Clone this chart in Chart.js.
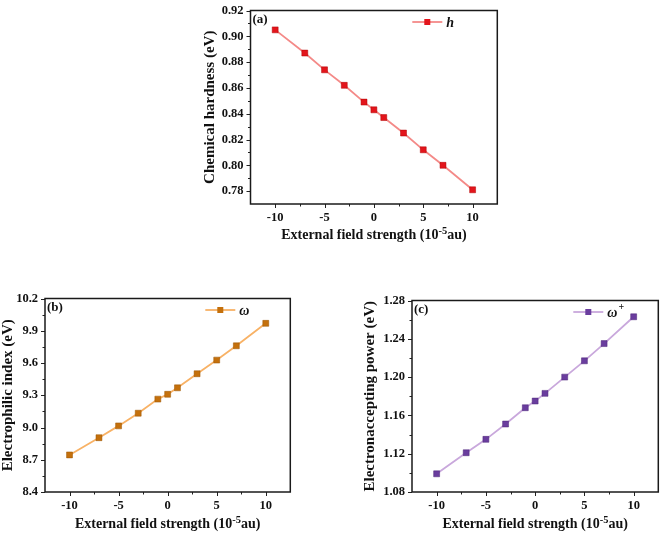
<!DOCTYPE html>
<html>
<head>
<meta charset="utf-8">
<script src="https://cdn.jsdelivr.net/npm/chart.js@4.4.1/dist/chart.umd.min.js"></script>
<style>
html,body{margin:0;padding:0;background:#fff;overflow:hidden;width:661px;height:533px;}
canvas{position:absolute;}
</style>
</head>
<body>
<canvas id="ca"></canvas>
<canvas id="cb"></canvas>
<canvas id="cc"></canvas>
<script>
// ---------- data ----------
const fieldStrength = [-10, -7, -5, -3, -1, 0, 1, 3, 5, 7, 10];
const hardness = [0.905, 0.887, 0.874, 0.862, 0.849, 0.843, 0.837, 0.825, 0.812, 0.800, 0.781];
const electrophilicIndex = [8.745, 8.905, 9.015, 9.133, 9.264, 9.309, 9.369, 9.500, 9.627, 9.760, 9.969];
const electronAccepting = [1.099, 1.121, 1.135, 1.151, 1.168, 1.175, 1.183, 1.200, 1.217, 1.235, 1.263];

const xTicks = [-10, -5, 0, 5, 10];
const xMinorTicks = [-7.5, -2.5, 2.5, 7.5];
const hardnessTicks = [0.78, 0.80, 0.82, 0.84, 0.86, 0.88, 0.90, 0.92];
const hardnessMinor = [0.79, 0.81, 0.83, 0.85, 0.87, 0.89, 0.91];
const electrophilicTicks = [8.4, 8.7, 9.0, 9.3, 9.6, 9.9, 10.2];
const electrophilicMinor = [8.55, 8.85, 9.15, 9.45, 9.75, 10.05];
const acceptingTicks = [1.08, 1.12, 1.16, 1.20, 1.24, 1.28];
const acceptingMinor = [1.10, 1.14, 1.18, 1.22, 1.26];

const xTitleParts = ['External field strength (10', '-5', 'au)'];
const yTitleA = 'Chemical hardness (eV)';
const yTitleB = 'Electrophilic index (eV)';
const yTitleC = 'Electronaccepting power (eV)';
const seriesNames = ['h', '\u03C9', '\u03C9'];
const panelLabels = ['(a)', '(b)', '(c)'];

// ---------- layout / styles ----------
const FONT = "'Liberation Serif', 'Times New Roman', serif";
const panels = [
  {id:'ca', plot:{l:250, t:6, r:497, b:204}, yTitleX:209.5, xTitleY:234,
   values:hardness, yTicks:hardnessTicks, yMinor:hardnessMinor, yMin:0.77, yMax:0.92, dec:2,
   yTitle:yTitleA, name:seriesNames[0], sup:'', label:panelLabels[0],
   line:'#F48A88', point:'#E3151C', pointBorder:'#B00000'},
  {id:'cb', plot:{l:45, t:294, r:291, b:492}, yTitleX:8, xTitleY:523,
   values:electrophilicIndex, yTicks:electrophilicTicks, yMinor:electrophilicMinor, yMin:8.4, yMax:10.2, dec:1,
   yTitle:yTitleB, name:seriesNames[1], sup:'', label:panelLabels[1],
   line:'#F8B266', point:'#C4700C', pointBorder:'#9A5500'},
  {id:'cc', plot:{l:412, t:296, r:659, b:492}, yTitleX:370, xTitleY:523,
   values:electronAccepting, yTicks:acceptingTicks, yMinor:acceptingMinor, yMin:1.08, yMax:1.28, dec:2,
   yTitle:yTitleC, name:seriesNames[2], sup:'+', label:panelLabels[2],
   line:'#C9A8DC', point:'#6A3D9E', pointBorder:'#4B2477'}
];

const Y_TITLE_SIZE = 15, Y_TITLE_LH = Y_TITLE_SIZE * 1.2;
const X_TITLE_SIZE = 14;
const PAD_TOP = 10, PAD_RIGHT = 4;

const decorPlugin = {
  id: 'decor',
  afterDraw(chart) {
    const p = chart.options.plugins.decor;
    const {ctx, chartArea:{left, top, right, bottom}, scales:{x, y}} = chart;
    ctx.save();
    // ticks
    ctx.strokeStyle = '#222';
    ctx.lineWidth = 1;
    ctx.beginPath();
    xTicks.forEach(v => { const px = Math.round(x.getPixelForValue(v)) + 0.5; ctx.moveTo(px, bottom); ctx.lineTo(px, bottom + 4); });
    xMinorTicks.forEach(v => { const px = Math.round(x.getPixelForValue(v)) + 0.5; ctx.moveTo(px, bottom); ctx.lineTo(px, bottom + 2.5); });
    p.yTicks.forEach(v => { const py = Math.round(y.getPixelForValue(v)) + 0.5; ctx.moveTo(left, py); ctx.lineTo(left - 4, py); });
    p.yMinor.forEach(v => { const py = Math.round(y.getPixelForValue(v)) + 0.5; ctx.moveTo(left, py); ctx.lineTo(left - 2.5, py); });
    ctx.stroke();
    // frame
    ctx.lineWidth = 1.5;
    ctx.strokeStyle = '#1a1a1a';
    ctx.strokeRect(left, top, right - left, bottom - top);
    // panel label
    ctx.fillStyle = '#111';
    ctx.font = "bold 13px " + FONT;
    ctx.textAlign = 'left';
    ctx.textBaseline = 'middle';
    ctx.fillText(p.label, left + 2, top + 9.5);
    // x axis title with superscript
    const ty = bottom + p.xTitleOff;
    const fMain = "bold " + X_TITLE_SIZE + "px " + FONT;
    const fSup = "bold 10.5px " + FONT;
    ctx.font = fMain; const w0 = ctx.measureText(xTitleParts[0]).width; const w2 = ctx.measureText(xTitleParts[2]).width;
    ctx.font = fSup; const w1 = ctx.measureText(xTitleParts[1]).width;
    let tx = (left + right) / 2 - (w0 + w1 + w2) / 2;
    ctx.textBaseline = 'alphabetic';
    const base = ty + 5;
    ctx.font = fMain; ctx.fillText(xTitleParts[0], tx, base); tx += w0;
    ctx.font = fSup; ctx.fillText(xTitleParts[1], tx, base - 5.5); tx += w1;
    ctx.font = fMain; ctx.fillText(xTitleParts[2], tx, base);
    // legend
    ctx.textBaseline = 'middle';
    const ly = top + 11.5;
    const lx1 = right - 85, lx2 = right - 55;
    ctx.strokeStyle = p.line;
    ctx.lineWidth = 1.8;
    ctx.beginPath(); ctx.moveTo(lx1, ly); ctx.lineTo(lx2, ly); ctx.stroke();
    ctx.fillStyle = p.point;
    ctx.fillRect((lx1 + lx2) / 2 - 3, ly - 3, 6, 6);
    ctx.fillStyle = '#111';
    ctx.font = "italic bold 14px " + FONT;
    ctx.fillText(p.name, lx2 + 4, ly + 1);
    if (p.sup) {
      const w = ctx.measureText(p.name).width;
      ctx.font = "bold 10px " + FONT;
      ctx.fillText(p.sup, lx2 + 5 + w, ly - 5);
    }
    ctx.restore();
  }
};

panels.forEach(p => {
  const canvasLeft = p.yTitleX - Y_TITLE_LH / 2;
  const canvasTop = p.plot.t - PAD_TOP;
  const yAxisWidth = p.plot.l - canvasLeft;
  const xAxisHeight = (p.xTitleY + 12) - p.plot.b;
  const W = Math.round(p.plot.r + PAD_RIGHT - canvasLeft);
  const H = Math.round(p.plot.b + xAxisHeight - canvasTop);
  const cv = document.getElementById(p.id);
  cv.width = W; cv.height = H;
  cv.style.left = canvasLeft + 'px';
  cv.style.top = canvasTop + 'px';
  cv.style.width = W + 'px'; cv.style.height = H + 'px';

  new Chart(cv, {
    type: 'line',
    data: {
      datasets: [{
        label: p.name,
        data: fieldStrength.map((xv, i) => ({x: xv, y: p.values[i]})),
        borderColor: p.line,
        borderWidth: 1.8,
        pointStyle: 'rect',
        pointRadius: 4.2,
        pointHoverRadius: 4.2,
        pointBackgroundColor: p.point,
        pointBorderColor: p.pointBorder,
        pointBorderWidth: 0.5,
        tension: 0,
        fill: false
      }]
    },
    options: {
      responsive: false,
      animation: false,
      devicePixelRatio: 1,
      layout: {padding: {left: 0, top: PAD_TOP, right: PAD_RIGHT, bottom: 0}},
      plugins: {
        legend: {display: false},
        tooltip: {enabled: false},
        decor: {yTicks: p.yTicks, yMinor: p.yMinor, label: p.label, name: p.name, sup: p.sup,
                line: p.line, point: p.point, xTitleOff: p.xTitleY - p.plot.b}
      },
      scales: {
        x: {
          type: 'linear', min: -12.5, max: 12.5,
          grid: {display: false, drawTicks: false},
          border: {display: false},
          afterBuildTicks: s => { s.ticks = xTicks.map(v => ({value: v})); },
          afterFit: s => { s.height = xAxisHeight; },
          ticks: {padding: 6, color: '#111', font: {family: FONT, size: 12.5, weight: 'bold'},
                  callback: v => String(v)},
          title: {display: false}
        },
        y: {
          type: 'linear', min: p.yMin, max: p.yMax,
          grid: {display: false, drawTicks: false},
          border: {display: false},
          afterBuildTicks: s => { s.ticks = p.yTicks.map(v => ({value: v})); },
          afterFit: s => { s.width = yAxisWidth; },
          ticks: {padding: 7, color: '#111', font: {family: FONT, size: 12.5, weight: 'bold'},
                  callback: v => Number(v).toFixed(p.dec)},
          title: {display: true, text: p.yTitle, color: '#111', padding: 0,
                  font: {family: FONT, size: Y_TITLE_SIZE, weight: 'bold'}}
        }
      }
    },
    plugins: [decorPlugin]
  });
});
</script>
</body>
</html>
